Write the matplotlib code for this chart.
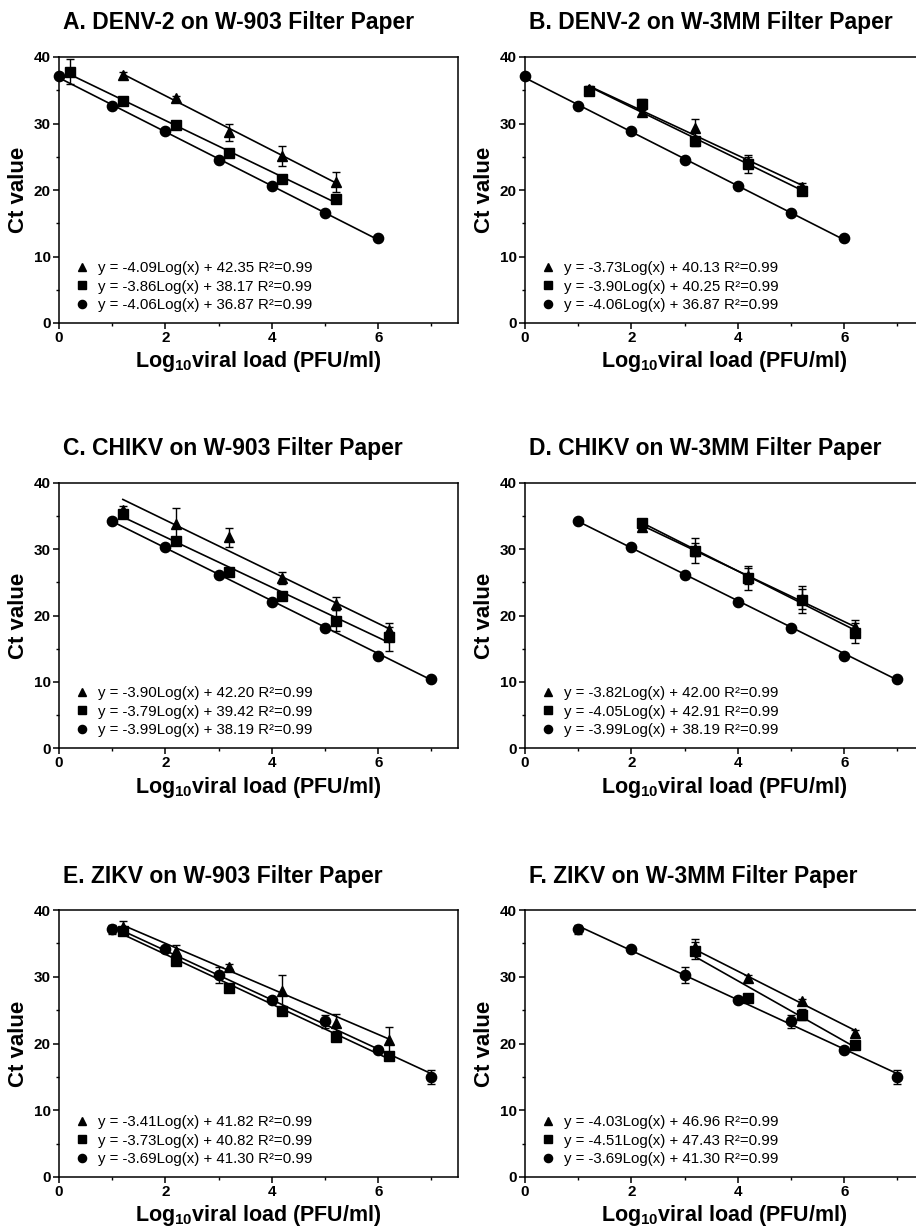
"""Ct value vs log10 viral load standard curves, six filter-paper panels (A-F).

Points are mean Ct with SD bars; lines are the fitted equations printed in each legend.
Output: out.png
"""

import matplotlib
matplotlib.use("Agg")
import matplotlib.pyplot as plt
from matplotlib.lines import Line2D
from matplotlib.ticker import MultipleLocator

plt.rcParams.update({
    "font.family": ["Liberation Sans", "DejaVu Sans"],
    "font.weight": "bold",
    "mathtext.fontset": "custom",
    "mathtext.rm": "Liberation Sans",
    "mathtext.bf": "Liberation Sans:bold",
    "axes.linewidth": 1.1,
})

TITLES = [
    "A. DENV-2 on W-903 Filter Paper", "B. DENV-2 on W-3MM Filter Paper",
    "C. CHIKV on W-903 Filter Paper", "D. CHIKV on W-3MM Filter Paper",
    "E. ZIKV on W-903 Filter Paper", "F. ZIKV on W-3MM Filter Paper",
]

# --- DENV-2 ---
denv_circ_x = [0, 1, 2, 3, 4, 5, 6]
denv_circ_y = [37.2, 32.7, 28.8, 24.5, 20.6, 16.6, 12.8]
denv_circ_e = [0.3, 0.3, 0.3, 0.3, 0.3, 0.3, 0.3]

a_tri_x = [1.2, 2.2, 3.2, 4.2, 5.2]
a_tri_y = [37.3, 33.8, 28.7, 25.1, 21.2]
a_tri_e = [0.4, 0.4, 1.3, 1.5, 1.5]
a_sq_x = [0.2, 1.2, 2.2, 3.2, 4.2, 5.2]
a_sq_y = [37.8, 33.4, 29.8, 25.6, 21.6, 18.6]
a_sq_e = [1.9, 0.5, 0.5, 0.5, 0.6, 0.6]

b_tri_x = [1.2, 2.2, 3.2, 4.2, 5.2]
b_tri_y = [35.2, 31.8, 29.3, 24.2, 20.5]
b_tri_e = [0.4, 0.5, 1.4, 0.8, 0.5]
b_sq_x = [1.2, 2.2, 3.2, 4.2, 5.2]
b_sq_y = [34.9, 32.9, 27.3, 23.9, 19.9]
b_sq_e = [0.5, 0.8, 0.7, 1.3, 0.7]

# --- CHIKV ---
chik_circ_x = [1, 2, 3, 4, 5, 6, 7]
chik_circ_y = [34.2, 30.4, 26.1, 22.0, 18.1, 13.9, 10.4]
chik_circ_e = [0.3, 0.3, 0.3, 0.3, 0.3, 0.3, 0.3]

c_tri_x = [1.2, 2.2, 3.2, 4.2, 5.2, 6.2]
c_tri_y = [36.0, 33.8, 31.8, 25.7, 21.8, 17.8]
c_tri_e = [0.5, 2.5, 1.4, 0.9, 1.0, 0.5]
c_sq_x = [1.2, 2.2, 3.2, 4.2, 5.2, 6.2]
c_sq_y = [35.3, 31.3, 26.6, 22.9, 19.2, 16.8]
c_sq_e = [0.6, 0.5, 0.5, 0.5, 1.6, 2.1]

d_tri_x = [2.2, 3.2, 4.2, 5.2, 6.2]
d_tri_y = [33.4, 30.0, 26.0, 22.5, 18.3]
d_tri_e = [0.5, 1.0, 1.2, 1.5, 1.0]
d_sq_x = [2.2, 3.2, 4.2, 5.2, 6.2]
d_sq_y = [33.9, 29.8, 25.6, 22.4, 17.3]
d_sq_e = [0.5, 1.9, 1.8, 2.0, 1.5]

# --- ZIKV ---
zik_circ_x = [1, 2, 3, 4, 5, 6, 7]
zik_circ_y = [37.1, 34.1, 30.3, 26.5, 23.3, 19.1, 15.0]
zik_circ_e = [0.7, 0.4, 1.2, 0.4, 1.0, 0.4, 1.0]

e_tri_x = [1.2, 2.2, 3.2, 4.2, 5.2, 6.2]
e_tri_y = [37.4, 33.8, 31.5, 27.8, 23.1, 20.5]
e_tri_e = [1.0, 1.0, 0.4, 2.4, 1.3, 2.0]
e_sq_x = [1.2, 2.2, 3.2, 4.2, 5.2, 6.2]
e_sq_y = [36.9, 32.3, 28.3, 24.9, 21.0, 18.1]
e_sq_e = [0.6, 0.5, 0.5, 0.6, 0.5, 0.5]

f_tri_x = [3.2, 4.2, 5.2, 6.2]
f_tri_y = [34.5, 29.8, 26.3, 21.6]
f_tri_e = [1.2, 0.4, 0.4, 0.4]
f_sq_x = [3.2, 4.2, 5.2, 6.2]
f_sq_y = [33.9, 26.8, 24.3, 19.8]
f_sq_e = [1.3, 0.5, 0.8, 0.6]

# fitted equations (slope, intercept) per panel: triangle, square, circle
SLOPES = [
    (-4.09, -3.86, -4.06), (-3.73, -3.90, -4.06),
    (-3.90, -3.79, -3.99), (-3.82, -4.05, -3.99),
    (-3.41, -3.73, -3.69), (-4.03, -4.51, -3.69),
]
INTERCEPTS = [
    (42.35, 38.17, 36.87), (40.13, 40.25, 36.87),
    (42.20, 39.42, 38.19), (42.00, 42.91, 38.19),
    (41.82, 40.82, 41.30), (46.96, 47.43, 41.30),
]
R2 = 0.99

PANELS = [
    [(a_tri_x, a_tri_y, a_tri_e), (a_sq_x, a_sq_y, a_sq_e), (denv_circ_x, denv_circ_y, denv_circ_e)],
    [(b_tri_x, b_tri_y, b_tri_e), (b_sq_x, b_sq_y, b_sq_e), (denv_circ_x, denv_circ_y, denv_circ_e)],
    [(c_tri_x, c_tri_y, c_tri_e), (c_sq_x, c_sq_y, c_sq_e), (chik_circ_x, chik_circ_y, chik_circ_e)],
    [(d_tri_x, d_tri_y, d_tri_e), (d_sq_x, d_sq_y, d_sq_e), (chik_circ_x, chik_circ_y, chik_circ_e)],
    [(e_tri_x, e_tri_y, e_tri_e), (e_sq_x, e_sq_y, e_sq_e), (zik_circ_x, zik_circ_y, zik_circ_e)],
    [(f_tri_x, f_tri_y, f_tri_e), (f_sq_x, f_sq_y, f_sq_e), (zik_circ_x, zik_circ_y, zik_circ_e)],
]

MARKERS = [("^", 7.8), ("s", 7.0), ("o", 7.4)]

W, H = 916, 1230
fig = plt.figure(figsize=(W / 100, H / 100), dpi=100)

# axes boxes in pixels: (left, top, bottom); right column runs past the page edge
COL_LEFT = [59, 525]
ROWS = [(57, 323), (483, 748), (910, 1177)]
AX_W = 399

for i, series in enumerate(PANELS):
    r, c = divmod(i, 2)
    top, bot = ROWS[r]
    ax = fig.add_axes([COL_LEFT[c] / W, (H - bot) / H, AX_W / W, (bot - top) / H])

    handles, labels = [], []
    for k, ((xs, ys, es), (mk, ms)) in enumerate(zip(series, MARKERS)):
        m, b = SLOPES[i][k], INTERCEPTS[i][k]
        x0, x1 = min(xs), max(xs)
        ax.plot([x0, x1], [m * x0 + b, m * x1 + b], color="black", lw=1.2, zorder=2)
        ax.errorbar(xs, ys, yerr=es, fmt=mk, ms=ms, color="black", ecolor="black",
                    elinewidth=1.0, capsize=3, capthick=1.0, zorder=3 + k, clip_on=False)
        handles.append(Line2D([], [], ls="none", marker=mk, ms=ms - 1.5, color="black"))
        labels.append(f"y = {m:.2f}Log(x) + {b:.2f} R²={R2:.2f}")

    ax.legend(handles, labels, loc="lower left", bbox_to_anchor=(0.044, 0.042),
              frameon=False, borderpad=0, borderaxespad=0, handlelength=0.75,
              handletextpad=0.65, labelspacing=0.28,
              prop={"family": "Liberation Sans", "weight": "normal", "size": 10.8})

    ax.set_xlim(0, 7.5)
    ax.set_ylim(0, 40)
    ax.set_xticks([0, 2, 4, 6])
    ax.set_yticks([0, 10, 20, 30, 40])
    ax.xaxis.set_minor_locator(MultipleLocator(1))
    ax.yaxis.set_minor_locator(MultipleLocator(5))
    ax.tick_params(which="major", direction="out", length=4, width=1.1, labelsize=11, pad=2)
    ax.tick_params(which="minor", direction="out", length=2.5, width=1.0)

    ax.set_ylabel("Ct value", fontsize=16, fontweight="bold")
    ax.yaxis.set_label_coords(-30 / AX_W, 0.5)
    ax.set_xlabel(r"Log$_{\mathbf{10}}$viral load (PFU/ml)", fontsize=15.5,
                  fontweight="bold", labelpad=3)
    ax.text(0.01, 1 + 34 / (bot - top), TITLES[i], transform=ax.transAxes,
            ha="left", va="center", fontsize=16.5, fontweight="bold")

fig.savefig("out.png", dpi=100)
plt.close(fig)
print("[ok] out.png")
